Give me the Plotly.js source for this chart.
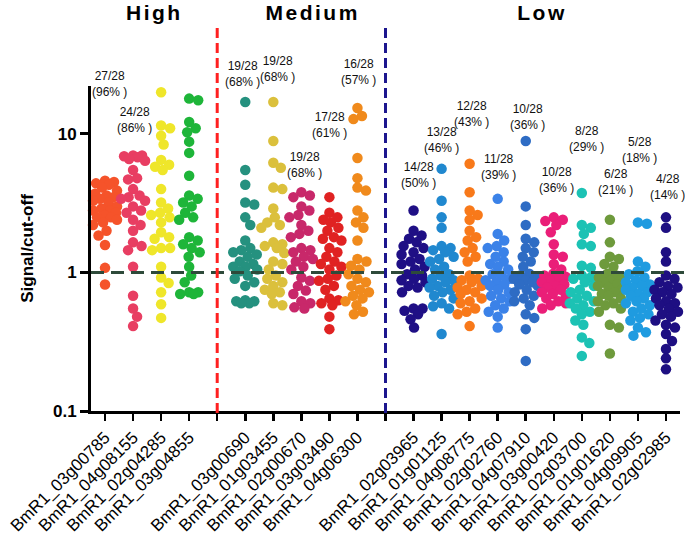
<!DOCTYPE html>
<html>
<head>
<meta charset="utf-8">
<script src="https://cdn.plot.ly/plotly-3.0.1.min.js"></script>
<style>
  html, body { margin: 0; padding: 0; background: #fff; }
  #chart { width: 685px; height: 540px; }
</style>
</head>
<body>
<div id="chart"></div>
<script>
// antigen names, in plot order
const names = [
  "BmR1_03g00785", "BmR1_04g08155", "BmR1_02g04285", "BmR1_03g04855",
  "BmR1_03g00690", "BmR1_01g03455", "BmR1_02g00670", "BmR1_03g03490", "BmR1_04g06300",
  "BmR1_02g03965", "BmR1_01g01125", "BmR1_04g08775", "BmR1_02g02760", "BmR1_04g07910",
  "BmR1_03g00420", "BmR1_02g03700", "BmR1_01g01620", "BmR1_04g09905", "BmR1_02g02985"
];
const groups = ["High", "Medium", "Low"];
const groupSize = [4, 5, 10];
const total = 28;

// signal / cut-off, 28 sera per antigen
const s1 = [4.6,4.5,4.4,4.3,4.1,3.9,3.7,3.6,3.5,3.4,3.3,3.2,3.0,2.9,2.8,2.8,2.7,2.6,2.5,2.5,2.4,2.3,2.2,2.0,1.85,1.58,1.08,0.82];
const s2 = [7.0,7.0,6.9,6.8,6.6,6.4,5.5,4.8,4.7,4.0,3.6,3.5,3.4,3.3,3.0,2.8,2.7,2.4,2.2,2.0,1.65,1.55,1.45,1.1,0.68,0.55,0.48,0.41];
const s3 = [20,11.5,11,9.7,8.4,6.5,6.0,5.8,5.5,4.0,3.2,2.9,2.7,2.6,2.5,2.3,1.95,1.8,1.75,1.5,1.5,1.45,1.1,0.92,0.84,0.72,0.59,0.47];
const s4 = [18,17.5,12.2,11,10.3,8.8,7.3,5.0,3.6,3.4,3.2,3.0,2.7,2.5,2.4,1.8,1.7,1.6,1.5,1.4,1.3,1.1,0.95,0.85,0.72,0.72,0.70,0.70];
const s5 = [17,5.5,4.3,3.2,3.1,2.5,2.2,1.7,1.5,1.45,1.4,1.35,1.3,1.2,1.15,1.1,1.1,1.05,1.02,0.95,0.9,0.85,0.8,0.63,0.62,0.62,0.6,0.6];
const s6 = [17,8.9,6.2,5.7,4.1,4.0,2.9,2.5,2.3,2.2,2.1,1.65,1.6,1.55,1.5,1.38,1.2,1.15,1.05,0.95,0.9,0.85,0.8,0.75,0.72,0.7,0.6,0.58];
const s7 = [3.8,3.6,3.5,3.0,2.8,2.6,2.5,2.2,2.0,1.9,1.8,1.5,1.45,1.4,1.3,1.25,1.2,1.1,1.05,0.92,0.87,0.8,0.74,0.7,0.62,0.6,0.56,0.55];
const s8 = [3.5,2.7,2.5,2.4,2.3,2.1,2.0,1.8,1.75,1.7,1.5,1.4,1.3,1.2,1.15,1.1,1.05,0.95,0.9,0.87,0.8,0.75,0.65,0.63,0.6,0.58,0.48,0.39];
const s9 = [15.4,13.5,12.8,6.7,4.8,4.1,3.9,2.8,2.5,2.3,2.1,1.7,1.25,1.2,1.12,1.05,0.97,0.9,0.85,0.8,0.75,0.72,0.68,0.65,0.62,0.58,0.52,0.5];
const s10 = [2.8,2.0,1.85,1.75,1.65,1.55,1.5,1.4,1.35,1.25,1.2,1.15,1.1,1.05,0.97,0.95,0.9,0.88,0.85,0.8,0.78,0.72,0.55,0.55,0.53,0.5,0.46,0.4];
const s11 = [5.6,3.3,2.5,2.1,1.55,1.5,1.45,1.4,1.3,1.25,1.2,1.1,1.05,0.97,0.95,0.9,0.88,0.85,0.8,0.78,0.75,0.72,0.68,0.65,0.6,0.57,0.55,0.36];
const s12 = [6.1,3.8,2.8,2.6,2.4,2.0,1.8,1.7,1.5,1.4,1.3,1.2,0.95,0.9,0.88,0.85,0.8,0.78,0.75,0.72,0.7,0.65,0.62,0.6,0.55,0.52,0.5,0.41];
const s13 = [3.4,1.9,1.7,1.55,1.5,1.4,1.3,1.2,1.15,1.1,1.05,0.97,0.95,0.9,0.88,0.85,0.82,0.8,0.75,0.72,0.68,0.65,0.62,0.58,0.55,0.52,0.48,0.4];
const s14 = [8.9,3.0,2.2,1.75,1.65,1.5,1.4,1.3,1.2,1.1,0.98,0.95,0.92,0.9,0.88,0.85,0.82,0.8,0.75,0.72,0.68,0.65,0.62,0.58,0.5,0.47,0.39,0.23];
const s15 = [2.5,2.4,2.35,2.2,1.95,1.6,1.35,1.3,1.15,1.05,0.98,0.95,0.93,0.9,0.88,0.85,0.82,0.8,0.78,0.75,0.72,0.7,0.68,0.65,0.62,0.6,0.58,0.55];
const s16 = [3.75,2.2,2.1,1.9,1.6,1.55,1.12,1.08,0.95,0.92,0.9,0.85,0.8,0.75,0.72,0.68,0.65,0.62,0.6,0.58,0.55,0.52,0.5,0.45,0.42,0.34,0.31,0.25];
const s17 = [2.4,1.65,1.3,1.25,1.15,1.1,0.98,0.95,0.92,0.9,0.87,0.85,0.82,0.8,0.78,0.75,0.72,0.7,0.68,0.65,0.62,0.6,0.58,0.55,0.52,0.42,0.4,0.26];
const s18 = [2.3,2.25,1.2,1.1,1.02,0.97,0.92,0.88,0.85,0.82,0.8,0.78,0.75,0.72,0.7,0.68,0.65,0.62,0.6,0.58,0.55,0.52,0.5,0.47,0.45,0.4,0.37,0.35];
const s19 = [2.5,2.1,1.4,1.2,0.95,0.9,0.85,0.8,0.78,0.75,0.72,0.7,0.65,0.62,0.6,0.58,0.55,0.52,0.5,0.48,0.45,0.42,0.4,0.36,0.32,0.28,0.24,0.2];
const series = [s1,s2,s3,s4,s5,s6,s7,s8,s9,s10,s11,s12,s13,s14,s15,s16,s17,s18,s19];

const colors = [
  "#f5532a", "#e83e62", "#efe62a", "#1eb539",
  "#25917f", "#dbc03c", "#c8286a", "#e02222", "#f08a1c",
  "#1f0f85", "#2088cf", "#f8791a", "#3b82e8", "#2e6cc4",
  "#ea1e78", "#1cc2b4", "#6e9a3c", "#1f9be0", "#1e0f82"
];

// layout
const W = 685, H = 540;
const M = { l: 91, r: 5, t: 86, b: 129 };
const yRange = [-1, Math.log10(22.2)];
const nSlots = 21;
const plotW = W - M.l - M.r, plotH = H - M.t - M.b;
const slotPx = plotW / nSlots;
const font = "Liberation Sans, Arial, sans-serif";

// slot of each antigen (a gap slot between groups holds the divider)
const slots = [];
const dividers = [];
let s = 0;
groupSize.forEach((n, g) => {
  for (let i = 0; i < n; i++) slots.push(s++);
  if (g < groupSize.length - 1) dividers.push(s++);
});

// beeswarm offsets in pixels (kept within the column), turned into x units
function swarm(vals, diam, maxOff) {
  const ypx = (v) => (Math.log10(v) - yRange[0]) / (yRange[1] - yRange[0]) * plotH;
  const order = vals.map((v, i) => i).sort((a, b) => vals[b] - vals[a]);
  const cand = [0];
  for (let k = 0.5; k <= maxOff; k += 0.5) cand.push(k, -k);
  const placed = [];
  const out = new Array(vals.length);
  for (const i of order) {
    const y = ypx(vals[i]);
    let best = 0, bestD = -1;
    for (const x of cand) {
      let d = Infinity;
      for (const p of placed) d = Math.min(d, Math.hypot(p.x - x, p.y - y));
      if (d >= diam) { best = x; break; }
      if (d > bestD) { bestD = d; best = x; }
    }
    placed.push({ x: best, y });
    out[i] = best / slotPx;
  }
  return out;
}

const traces = series.map((vals, i) => {
  const off = swarm(vals, 9, 12);
  return {
    type: "scatter",
    mode: "markers",
    x: vals.map((v, j) => slots[i] + off[j]),
    y: vals,
    marker: { color: colors[i], size: 10.5, line: { width: 0 } },
    cliponaxis: false,
    hoverinfo: "y",
    showlegend: false,
  };
});

// count label positions (log10 of y for the bottom of the label, px nudge)
const labelY = [1.236,0.977,1.359,1.54,1.309,1.345,0.653,0.941,1.323,0.581,0.833,1.02,0.638,0.999,0.545,0.84,0.53,0.761,0.494];
const labelDx = [4,1,0,6,-3,4,3,0,1,5,0,2,1,2,3,5,6,2,2];

const annotations = series.map((vals, i) => {
  const pos = vals.filter((v) => v > 1).length;
  return {
    xref: "x", yref: "y",
    x: slots[i], y: labelY[i], xshift: labelDx[i],
    xanchor: "center", yanchor: "bottom",
    text: `${pos}/${total}<br>(${Math.round(pos / total * 100)}% )`,
    showarrow: false,
    font: { family: font, size: 12, color: "#111" },
  };
});

// group headings
const headX = [1.78, 7.38, 15.6];
groups.forEach((g, i) => {
  annotations.unshift({
    xref: "x", yref: "paper",
    x: headX[i], y: 1 + (M.t - 12) / plotH,
    xanchor: "center", yanchor: "middle",
    text: g, showarrow: false,
    font: { family: font, size: 21, color: "#000", weight: "bold" },
  });
});

const divColors = ["#ff2020", "#1c168e"];
const oneY = (0 - yRange[0]) / (yRange[1] - yRange[0]);
const shapes = [
  {
    type: "line", xref: "paper", yref: "paper",
    x0: 0, x1: 1.01, y0: oneY, y1: oneY,
    line: { color: "#2e4a3a", width: 3, dash: "13px,7px" },
  },
  ...dividers.map((d, i) => ({
    type: "line", xref: "x", yref: "paper",
    x0: d, x1: d, y0: -0.006, y1: 1 + (M.t - 28) / plotH,
    line: { color: divColors[i], width: 3, dash: "10px,5px" },
  })),
];

const tickvals = [], ticktext = [];
for (let k = 0; k < nSlots; k++) {
  tickvals.push(k);
  const idx = slots.indexOf(k);
  ticktext.push(idx >= 0 ? names[idx] : "");
}

const layout = {
  width: W, height: H,
  margin: M,
  paper_bgcolor: "#fff", plot_bgcolor: "#fff",
  font: { family: font, color: "#000" },
  xaxis: {
    range: [-0.5, nSlots - 0.5],
    tickvals, ticktext, tickangle: -45,
    tickfont: { family: font, size: 17, color: "#000" },
    showline: true, linecolor: "#000", linewidth: 3,
    ticks: "outside", ticklen: 7, tickwidth: 2.5, tickcolor: "#000",
    showgrid: false, zeroline: false, fixedrange: true,
  },
  yaxis: {
    type: "log",
    range: yRange,
    tickvals: [0.1, 1, 10], ticktext: ["0.1", "1", "10"],
    tickfont: { family: font, size: 17, color: "#000", weight: "bold" },
    title: { text: "Signal/cut-off", font: { family: font, size: 17, color: "#000", weight: "bold" }, standoff: 16 },
    showline: true, linecolor: "#000", linewidth: 3,
    ticks: "outside", ticklen: 8, tickwidth: 3, tickcolor: "#000",
    showgrid: false, zeroline: false, fixedrange: true,
  },
  shapes,
  annotations,
};

Plotly.newPlot("chart", traces, layout, { displayModeBar: false, staticPlot: true }).then(() => {
  // spaced-out group headings
  const heads = document.querySelectorAll("#chart .annotation");
  for (let i = 0; i < groups.length; i++) {
    const t = heads[i] && heads[i].querySelector("text");
    if (t) t.style.letterSpacing = "2.5px";
  }
});
</script>
</body>
</html>
